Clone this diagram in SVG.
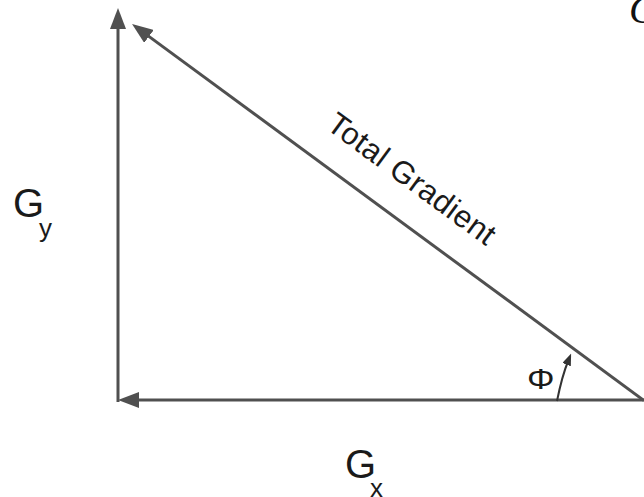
<svg xmlns="http://www.w3.org/2000/svg" width="644" height="497" viewBox="0 0 644 497">
  <style>
    .ln { stroke: #505050; stroke-width: 3; fill: none; }
    .lbl { font-family: "Liberation Sans", Arial, sans-serif; fill: #1a1a1a; }
  </style>
  <defs>
    <marker id="ah" viewBox="0 0 21 16" markerWidth="21" markerHeight="16" refX="9" refY="8" orient="auto" markerUnits="userSpaceOnUse">
      <path d="M0,0 L21,8 L0,16 Z" fill="#505050"/>
    </marker>
    <marker id="ahs" viewBox="0 0 12 9" markerWidth="12" markerHeight="9" refX="5" refY="4.5" orient="auto" markerUnits="userSpaceOnUse">
      <path d="M0,0 L12,4.5 L0,9 Z" fill="#333"/>
    </marker>
  </defs>
  <rect width="644" height="497" fill="#ffffff"/>
  <g id="connectors">
    <line class="ln" x1="118" y1="402" x2="118" y2="20" marker-end="url(#ah)"/>
    <line class="ln" x1="644" y1="400" x2="130" y2="400" marker-end="url(#ah)"/>
    <line class="ln" x1="644" y1="400.5" x2="141.7" y2="31.1" marker-end="url(#ah)"/>
    <path d="M557,401 Q562,376 568.5,360" stroke="#333" stroke-width="2" fill="none" marker-end="url(#ahs)"/>
  </g>
  <g id="label-gy">
    <text class="lbl" x="13" y="217" font-size="40">G</text>
    <text class="lbl" x="39" y="237" font-size="26">y</text>
  </g>
  <g id="label-gx">
    <text class="lbl" x="345" y="478" font-size="40">G</text>
    <text class="lbl" x="370" y="497" font-size="26">x</text>
  </g>
  <g id="label-total">
    <text class="lbl" font-size="31" textLength="200" lengthAdjust="spacing" transform="translate(325,128) rotate(36.3)">Total Gradient</text>
  </g>
  <g id="label-phi">
    <text class="lbl" font-size="30" transform="translate(527,389) scale(1.15,1)">Φ</text>
  </g>
  <g id="label-corner">
    <text x="629" y="23" font-size="40" font-style="italic" font-family="'Liberation Serif', 'Times New Roman', serif" fill="#111">C</text>
  </g>
</svg>
